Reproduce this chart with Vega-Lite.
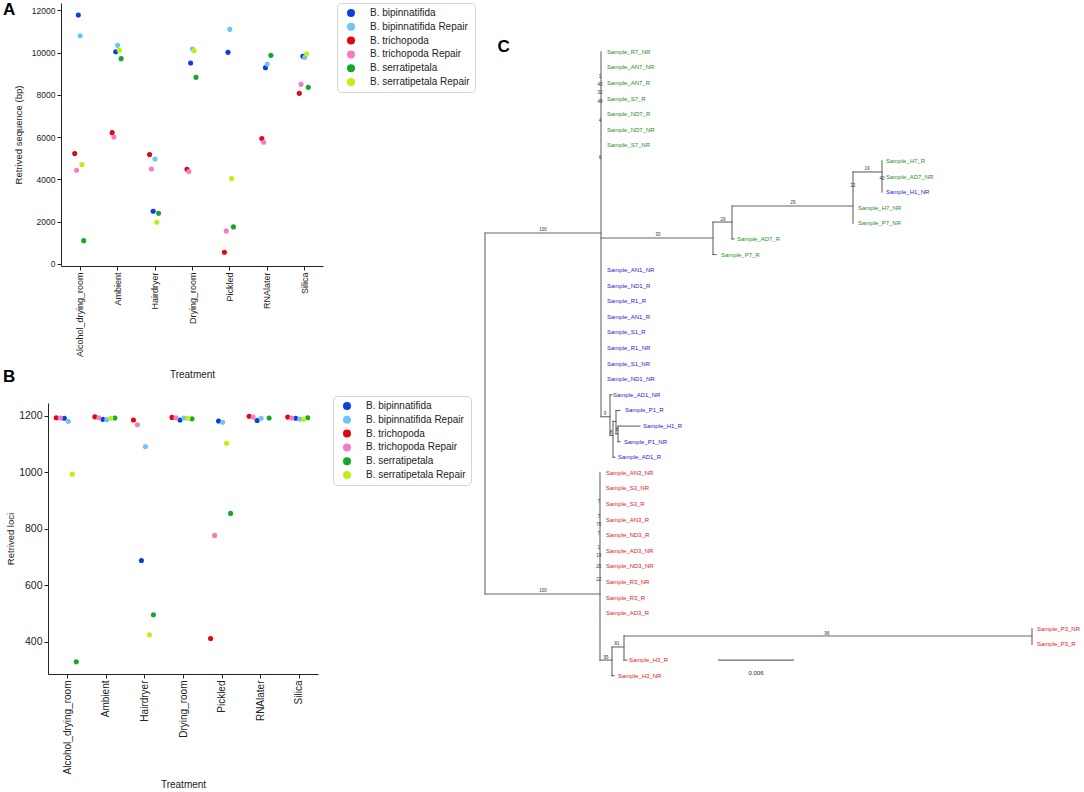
{
  "$schema": "https://vega.github.io/schema/vega-lite/v6.json",
  "width": 1084,
  "height": 792,
  "autosize": {"type": "none"},
  "padding": 0,
  "background": "white",
  "title": {"text": ["A", "B"], "lineHeight": 367, "anchor": "start", "frame": "group", "dx": 3, "dy": 399, "offset": 0, "baseline": "alphabetic", "align": "left", "fontSize": 17, "fontWeight": "bold", "color": "#000"},
  "datasets": {
    "seq": [
      {"t": "Alcohol_drying_room", "s": "B. bipinnatifida", "v": 11780},
      {"t": "Alcohol_drying_room", "s": "B. bipinnatifida Repair", "v": 10800},
      {"t": "Alcohol_drying_room", "s": "B. trichopoda", "v": 5220},
      {"t": "Alcohol_drying_room", "s": "B. trichopoda Repair", "v": 4430},
      {"t": "Alcohol_drying_room", "s": "B. serratipetala", "v": 1100},
      {"t": "Alcohol_drying_room", "s": "B. serratipetala Repair", "v": 4700},
      {"t": "Ambient", "s": "B. bipinnatifida", "v": 10045},
      {"t": "Ambient", "s": "B. bipinnatifida Repair", "v": 10345},
      {"t": "Ambient", "s": "B. trichopoda", "v": 6213},
      {"t": "Ambient", "s": "B. trichopoda Repair", "v": 6008},
      {"t": "Ambient", "s": "B. serratipetala", "v": 9715},
      {"t": "Ambient", "s": "B. serratipetala Repair", "v": 10110},
      {"t": "Hairdryer", "s": "B. bipinnatifida", "v": 2492},
      {"t": "Hairdryer", "s": "B. bipinnatifida Repair", "v": 4968},
      {"t": "Hairdryer", "s": "B. trichopoda", "v": 5173},
      {"t": "Hairdryer", "s": "B. trichopoda Repair", "v": 4494},
      {"t": "Hairdryer", "s": "B. serratipetala", "v": 2397},
      {"t": "Hairdryer", "s": "B. serratipetala Repair", "v": 1971},
      {"t": "Drying_room", "s": "B. bipinnatifida", "v": 9509},
      {"t": "Drying_room", "s": "B. bipinnatifida Repair", "v": 10172},
      {"t": "Drying_room", "s": "B. trichopoda", "v": 4479},
      {"t": "Drying_room", "s": "B. trichopoda Repair", "v": 4368},
      {"t": "Drying_room", "s": "B. serratipetala", "v": 8831},
      {"t": "Drying_room", "s": "B. serratipetala Repair", "v": 10093},
      {"t": "Pickled", "s": "B. bipinnatifida", "v": 10014},
      {"t": "Pickled", "s": "B. bipinnatifida Repair", "v": 11102},
      {"t": "Pickled", "s": "B. trichopoda", "v": 552},
      {"t": "Pickled", "s": "B. trichopoda Repair", "v": 1561},
      {"t": "Pickled", "s": "B. serratipetala", "v": 1750},
      {"t": "Pickled", "s": "B. serratipetala Repair", "v": 4037},
      {"t": "RNAlater", "s": "B. bipinnatifida", "v": 9289},
      {"t": "RNAlater", "s": "B. bipinnatifida Repair", "v": 9462},
      {"t": "RNAlater", "s": "B. trichopoda", "v": 5930},
      {"t": "RNAlater", "s": "B. trichopoda Repair", "v": 5756},
      {"t": "RNAlater", "s": "B. serratipetala", "v": 9872},
      {"t": "Silica", "s": "B. bipinnatifida", "v": 9825},
      {"t": "Silica", "s": "B. bipinnatifida Repair", "v": 9777},
      {"t": "Silica", "s": "B. trichopoda", "v": 8074},
      {"t": "Silica", "s": "B. trichopoda Repair", "v": 8500},
      {"t": "Silica", "s": "B. serratipetala", "v": 8358},
      {"t": "Silica", "s": "B. serratipetala Repair", "v": 9951}
    ],
    "loci": [
      {"t": "Alcohol_drying_room", "s": "B. bipinnatifida", "v": 1191},
      {"t": "Alcohol_drying_room", "s": "B. bipinnatifida Repair", "v": 1180},
      {"t": "Alcohol_drying_room", "s": "B. trichopoda", "v": 1193},
      {"t": "Alcohol_drying_room", "s": "B. trichopoda Repair", "v": 1192},
      {"t": "Alcohol_drying_room", "s": "B. serratipetala", "v": 328},
      {"t": "Alcohol_drying_room", "s": "B. serratipetala Repair", "v": 993},
      {"t": "Ambient", "s": "B. bipinnatifida", "v": 1187},
      {"t": "Ambient", "s": "B. bipinnatifida Repair", "v": 1186},
      {"t": "Ambient", "s": "B. trichopoda", "v": 1196},
      {"t": "Ambient", "s": "B. trichopoda Repair", "v": 1193},
      {"t": "Ambient", "s": "B. serratipetala", "v": 1192},
      {"t": "Ambient", "s": "B. serratipetala Repair", "v": 1191},
      {"t": "Hairdryer", "s": "B. bipinnatifida", "v": 687},
      {"t": "Hairdryer", "s": "B. bipinnatifida Repair", "v": 1091},
      {"t": "Hairdryer", "s": "B. trichopoda", "v": 1185},
      {"t": "Hairdryer", "s": "B. trichopoda Repair", "v": 1168},
      {"t": "Hairdryer", "s": "B. serratipetala", "v": 495},
      {"t": "Hairdryer", "s": "B. serratipetala Repair", "v": 424},
      {"t": "Drying_room", "s": "B. bipinnatifida", "v": 1185},
      {"t": "Drying_room", "s": "B. bipinnatifida Repair", "v": 1192},
      {"t": "Drying_room", "s": "B. trichopoda", "v": 1194},
      {"t": "Drying_room", "s": "B. trichopoda Repair", "v": 1193},
      {"t": "Drying_room", "s": "B. serratipetala", "v": 1189},
      {"t": "Drying_room", "s": "B. serratipetala Repair", "v": 1191},
      {"t": "Pickled", "s": "B. bipinnatifida", "v": 1181},
      {"t": "Pickled", "s": "B. bipinnatifida Repair", "v": 1177},
      {"t": "Pickled", "s": "B. trichopoda", "v": 411},
      {"t": "Pickled", "s": "B. trichopoda Repair", "v": 776},
      {"t": "Pickled", "s": "B. serratipetala", "v": 854},
      {"t": "Pickled", "s": "B. serratipetala Repair", "v": 1102},
      {"t": "RNAlater", "s": "B. bipinnatifida", "v": 1183},
      {"t": "RNAlater", "s": "B. bipinnatifida Repair", "v": 1191},
      {"t": "RNAlater", "s": "B. trichopoda", "v": 1198},
      {"t": "RNAlater", "s": "B. trichopoda Repair", "v": 1195},
      {"t": "RNAlater", "s": "B. serratipetala", "v": 1192},
      {"t": "Silica", "s": "B. bipinnatifida", "v": 1191},
      {"t": "Silica", "s": "B. bipinnatifida Repair", "v": 1188},
      {"t": "Silica", "s": "B. trichopoda", "v": 1195},
      {"t": "Silica", "s": "B. trichopoda Repair", "v": 1192},
      {"t": "Silica", "s": "B. serratipetala", "v": 1193},
      {"t": "Silica", "s": "B. serratipetala Repair", "v": 1187}
    ],
    "edges": [
      {"x": -0.002684, "x2": -0.002053, "y": 23.17, "y2": 23.17},
      {"x": 0, "x2": 0.009158, "y": 11.62, "y2": 11.62},
      {"x": 0, "x2": 0.009079, "y": 34.76, "y2": 34.76},
      {"x": 0, "x2": 0, "y": 11.62, "y2": 34.76},
      {"x": 0.009158, "x2": 0.009158, "y": 0, "y2": 23.4},
      {"x": 0.009158, "x2": 0.018, "y": 11.94, "y2": 11.94},
      {"x": 0.018, "x2": 0.018, "y": 10.92, "y2": 13},
      {"x": 0.018, "x2": 0.018237, "y": 13, "y2": 13},
      {"x": 0.018, "x2": 0.0195, "y": 10.92, "y2": 10.92},
      {"x": 0.0195, "x2": 0.0195, "y": 9.89, "y2": 12},
      {"x": 0.0195, "x2": 0.019658, "y": 12, "y2": 12},
      {"x": 0.0195, "x2": 0.029053, "y": 9.89, "y2": 9.89},
      {"x": 0.029053, "x2": 0.029053, "y": 7.71, "y2": 11},
      {"x": 0.029053, "x2": 0.031342, "y": 7.71, "y2": 7.71},
      {"x": 0.031342, "x2": 0.031342, "y": 7, "y2": 9},
      {"x": 0.009158, "x2": 0.009868, "y": 23.4, "y2": 23.4},
      {"x": 0.009868, "x2": 0.009868, "y": 22, "y2": 24.6},
      {"x": 0.009868, "x2": 0.010026, "y": 22, "y2": 22},
      {"x": 0.009868, "x2": 0.010105, "y": 24.6, "y2": 24.6},
      {"x": 0.010105, "x2": 0.010105, "y": 23.7, "y2": 26},
      {"x": 0.010105, "x2": 0.010263, "y": 26, "y2": 26},
      {"x": 0.010105, "x2": 0.010342, "y": 23.7, "y2": 23.7},
      {"x": 0.010342, "x2": 0.010342, "y": 23, "y2": 24.5},
      {"x": 0.010342, "x2": 0.010658, "y": 23, "y2": 23},
      {"x": 0.010342, "x2": 0.0105, "y": 24.5, "y2": 24.5},
      {"x": 0.0105, "x2": 0.0105, "y": 24, "y2": 25},
      {"x": 0.0105, "x2": 0.012237, "y": 24, "y2": 24},
      {"x": 0.0105, "x2": 0.010658, "y": 25, "y2": 25},
      {"x": 0.009079, "x2": 0.009079, "y": 27, "y2": 39},
      {"x": 0.009079, "x2": 0.010026, "y": 39, "y2": 39},
      {"x": 0.010026, "x2": 0.010026, "y": 38.16, "y2": 40},
      {"x": 0.010026, "x2": 0.010184, "y": 40, "y2": 40},
      {"x": 0.010026, "x2": 0.010974, "y": 38.16, "y2": 38.16},
      {"x": 0.010974, "x2": 0.010974, "y": 37.46, "y2": 39},
      {"x": 0.010974, "x2": 0.011211, "y": 39, "y2": 39},
      {"x": 0.010974, "x2": 0.043184, "y": 37.46, "y2": 37.46},
      {"x": 0.043184, "x2": 0.043184, "y": 37, "y2": 38}
    ],
    "tips": [
      {"name": "Sample_R7_NR", "g": "7", "x": 0.009632, "y": 0},
      {"name": "Sample_AN7_NR", "g": "7", "x": 0.009632, "y": 1},
      {"name": "Sample_AN7_R", "g": "7", "x": 0.009632, "y": 2},
      {"name": "Sample_S7_R", "g": "7", "x": 0.009632, "y": 3},
      {"name": "Sample_ND7_R", "g": "7", "x": 0.009632, "y": 4},
      {"name": "Sample_ND7_NR", "g": "7", "x": 0.009632, "y": 5},
      {"name": "Sample_S7_NR", "g": "7", "x": 0.009632, "y": 6},
      {"name": "Sample_H7_R", "g": "7", "x": 0.031658, "y": 7},
      {"name": "Sample_AD7_NR", "g": "7", "x": 0.031658, "y": 8},
      {"name": "Sample_H1_NR", "g": "1", "x": 0.031658, "y": 9},
      {"name": "Sample_H7_NR", "g": "7", "x": 0.029447, "y": 10},
      {"name": "Sample_P7_NR", "g": "7", "x": 0.029447, "y": 11},
      {"name": "Sample_AD7_R", "g": "7", "x": 0.019895, "y": 12},
      {"name": "Sample_P7_R", "g": "7", "x": 0.018632, "y": 13},
      {"name": "Sample_AN1_NR", "g": "1", "x": 0.009632, "y": 14},
      {"name": "Sample_ND1_R", "g": "1", "x": 0.009632, "y": 15},
      {"name": "Sample_R1_R", "g": "1", "x": 0.009632, "y": 16},
      {"name": "Sample_AN1_R", "g": "1", "x": 0.009632, "y": 17},
      {"name": "Sample_S1_R", "g": "1", "x": 0.009632, "y": 18},
      {"name": "Sample_R1_NR", "g": "1", "x": 0.009632, "y": 19},
      {"name": "Sample_S1_NR", "g": "1", "x": 0.009632, "y": 20},
      {"name": "Sample_ND1_NR", "g": "1", "x": 0.009632, "y": 21},
      {"name": "Sample_AD1_NR", "g": "1", "x": 0.010105, "y": 22},
      {"name": "Sample_P1_R", "g": "1", "x": 0.011053, "y": 23},
      {"name": "Sample_H1_R", "g": "1", "x": 0.012474, "y": 24},
      {"name": "Sample_P1_NR", "g": "1", "x": 0.010974, "y": 25},
      {"name": "Sample_AD1_R", "g": "1", "x": 0.0105, "y": 26},
      {"name": "Sample_AN3_NR", "g": "3", "x": 0.009553, "y": 27},
      {"name": "Sample_S3_NR", "g": "3", "x": 0.009553, "y": 28},
      {"name": "Sample_S3_R", "g": "3", "x": 0.009553, "y": 29},
      {"name": "Sample_AN3_R", "g": "3", "x": 0.009553, "y": 30},
      {"name": "Sample_ND3_R", "g": "3", "x": 0.009553, "y": 31},
      {"name": "Sample_AD3_NR", "g": "3", "x": 0.009553, "y": 32},
      {"name": "Sample_ND3_NR", "g": "3", "x": 0.009553, "y": 33},
      {"name": "Sample_R3_NR", "g": "3", "x": 0.009553, "y": 34},
      {"name": "Sample_R3_R", "g": "3", "x": 0.009553, "y": 35},
      {"name": "Sample_AD3_R", "g": "3", "x": 0.009553, "y": 36},
      {"name": "Sample_P3_NR", "g": "3", "x": 0.043579, "y": 37},
      {"name": "Sample_P3_R", "g": "3", "x": 0.043579, "y": 38},
      {"name": "Sample_H3_R", "g": "3", "x": 0.011368, "y": 39},
      {"name": "Sample_H3_NR", "g": "3", "x": 0.0105, "y": 40}
    ],
    "boot": [
      {"b": "100", "x": 0.004579, "y": 11.62},
      {"b": "100", "x": 0.004579, "y": 34.76},
      {"b": "30", "x": 0.013658, "y": 11.94},
      {"b": "29", "x": 0.018789, "y": 10.92},
      {"b": "29", "x": 0.024316, "y": 9.89},
      {"b": "19", "x": 0.030158, "y": 7.71},
      {"b": "32", "x": 0.029053, "y": 8.8},
      {"b": "40", "x": 0.031342, "y": 8.3},
      {"b": "9", "x": 0.009474, "y": 23.4},
      {"b": "8", "x": 0.009947, "y": 24.6},
      {"b": "8", "x": 0.010421, "y": 24.4},
      {"b": "95", "x": 0.009553, "y": 39},
      {"b": "81", "x": 0.010421, "y": 38.16},
      {"b": "96", "x": 0.027, "y": 37.46},
      {"b": "7", "x": 0.00898, "y": 29.0},
      {"b": "7", "x": 0.00898, "y": 30.0},
      {"b": "76", "x": 0.00898, "y": 30.5},
      {"b": "7", "x": 0.00898, "y": 31.1},
      {"b": "1", "x": 0.00898, "y": 32.0},
      {"b": "19", "x": 0.00898, "y": 32.5},
      {"b": "20", "x": 0.00898, "y": 33.2},
      {"b": "22", "x": 0.00898, "y": 34.0},
      {"b": "1", "x": 0.009079, "y": 1.8},
      {"b": "40", "x": 0.009079, "y": 2.3},
      {"b": "32", "x": 0.009079, "y": 2.8},
      {"b": "48", "x": 0.009079, "y": 3.4},
      {"b": "4", "x": 0.009079, "y": 4.6},
      {"b": "6", "x": 0.009079, "y": 7.0}
    ],
    "bar": [
      {"x": 0.018395, "x2": 0.024395, "y": 39.0, "lx": 0.021395, "ly": 39.8, "lbl": "0.006"}
    ]
  },
  "layer": [
    {
      "data": {"name": "seq"},
      "mark": {"type": "circle", "size": 26, "opacity": 1},
      "encoding": {
        "x": {
          "field": "t", "type": "nominal",
          "sort": ["Alcohol_drying_room", "Ambient", "Hairdryer", "Drying_room", "Pickled", "RNAlater", "Silica"],
          "scale": {"type": "point", "padding": 0.5, "range": [61, 323]},
          "axis": {"orient": "bottom", "offset": -526, "title": "Treatment", "labelAngle": -90, "labelFontSize": 9, "titleFontSize": 10, "titlePadding": 13}
        },
        "xOffset": {
          "field": "s", "type": "nominal",
          "scale": {"type": "point", "padding": 0, "range": [-5, 4], "domain": ["B. trichopoda", "B. trichopoda Repair", "B. bipinnatifida", "B. bipinnatifida Repair", "B. serratipetala Repair", "B. serratipetala"]}
        },
        "y": {
          "field": "v", "type": "quantitative",
          "scale": {"domain": [-100, 12350], "range": [266, 3], "nice": false, "zero": false},
          "axis": {"orient": "left", "offset": -61, "title": "Retrived sequence (bp)", "values": [0, 2000, 4000, 6000, 8000, 10000, 12000], "format": "d", "labelFontSize": 8.5, "titleFontSize": 9.5, "titlePadding": 8}
        },
        "color": {
          "field": "s", "type": "nominal",
          "scale": {"domain": ["B. bipinnatifida", "B. bipinnatifida Repair", "B. trichopoda", "B. trichopoda Repair", "B. serratipetala", "B. serratipetala Repair"], "range": ["#0a3fdc", "#6ec5f5", "#e3060f", "#f57cc2", "#14a82a", "#c3ee12"]},
          "legend": {"legendX": 337, "legendY": 3}
        }
      }
    },
    {
      "data": {"name": "loci"},
      "mark": {"type": "circle", "size": 26, "opacity": 1},
      "encoding": {
        "x": {
          "field": "t", "type": "nominal",
          "sort": ["Alcohol_drying_room", "Ambient", "Hairdryer", "Drying_room", "Pickled", "RNAlater", "Silica"],
          "scale": {"type": "point", "padding": 0.5, "range": [48, 318]},
          "axis": {"orient": "bottom", "offset": -118, "title": "Treatment", "labelAngle": -90, "labelFontSize": 10, "titleFontSize": 10, "titlePadding": 6}
        },
        "xOffset": {
          "field": "s", "type": "nominal",
          "scale": {"type": "point", "padding": 0, "range": [-11, 9], "domain": ["B. trichopoda", "B. trichopoda Repair", "B. bipinnatifida", "B. bipinnatifida Repair", "B. serratipetala Repair", "B. serratipetala"]}
        },
        "y": {
          "field": "v", "type": "quantitative",
          "scale": {"domain": [285, 1245], "range": [674, 403], "nice": false, "zero": false},
          "axis": {"orient": "left", "offset": -48, "title": "Retrived loci", "values": [400, 600, 800, 1000, 1200], "format": "d", "labelFontSize": 10.5, "titleFontSize": 9.5, "titlePadding": 3}
        },
        "color": {
          "field": "s", "type": "nominal",
          "scale": {"domain": ["B. bipinnatifida", "B. bipinnatifida Repair", "B. trichopoda", "B. trichopoda Repair", "B. serratipetala", "B. serratipetala Repair"], "range": ["#0a3fdc", "#6ec5f5", "#e3060f", "#f57cc2", "#14a82a", "#c3ee12"]},
          "legend": {"legendX": 333, "legendY": 396}
        }
      }
    },
    {
      "layer": [
        {
          "data": {"name": "edges"},
          "mark": {"type": "rule", "color": "#666666", "strokeWidth": 1.1, "strokeCap": "square"},
          "encoding": {
            "x": {"field": "x", "type": "quantitative", "scale": {"domain": [-0.002921, 0.046974], "range": [448, 1080], "nice": false, "zero": false}, "axis": {"orient": "top", "title": "C", "domain": false, "ticks": false, "labels": false, "grid": false, "titleX": 497, "titleY": 51, "titleAlign": "left", "titleBaseline": "alphabetic", "titleAngle": 0, "titleFontSize": 17, "titleFontWeight": "bold", "titleColor": "#000"}},
            "x2": {"field": "x2"},
            "y": {"field": "y", "type": "quantitative", "scale": {"domain": [-3.122, 40.917], "range": [3, 690], "nice": false, "zero": false}, "axis": null},
            "y2": {"field": "y2"}
          }
        },
        {
          "data": {"name": "bar"},
          "mark": {"type": "rule", "color": "#444444", "strokeWidth": 1},
          "encoding": {
            "x": {"field": "x", "type": "quantitative", "axis": {"orient": "top", "title": "C", "domain": false, "ticks": false, "labels": false, "grid": false, "titleX": 497, "titleY": 51, "titleAlign": "left", "titleBaseline": "alphabetic", "titleAngle": 0, "titleFontSize": 17, "titleFontWeight": "bold", "titleColor": "#000"}},
            "x2": {"field": "x2"},
            "y": {"field": "y", "type": "quantitative", "axis": null}
          }
        },
        {
          "data": {"name": "bar"},
          "mark": {"type": "text", "fontSize": 6, "baseline": "middle", "align": "center", "color": "#222"},
          "encoding": {
            "x": {"field": "lx", "type": "quantitative", "axis": {"orient": "top", "title": "C", "domain": false, "ticks": false, "labels": false, "grid": false, "titleX": 497, "titleY": 51, "titleAlign": "left", "titleBaseline": "alphabetic", "titleAngle": 0, "titleFontSize": 17, "titleFontWeight": "bold", "titleColor": "#000"}},
            "y": {"field": "ly", "type": "quantitative", "axis": null},
            "text": {"field": "lbl"}
          }
        },
        {
          "data": {"name": "boot"},
          "mark": {"type": "text", "fontSize": 4.5, "baseline": "bottom", "align": "center", "dy": -0.5, "color": "#333"},
          "encoding": {
            "x": {"field": "x", "type": "quantitative", "axis": {"orient": "top", "title": "C", "domain": false, "ticks": false, "labels": false, "grid": false, "titleX": 497, "titleY": 51, "titleAlign": "left", "titleBaseline": "alphabetic", "titleAngle": 0, "titleFontSize": 17, "titleFontWeight": "bold", "titleColor": "#000"}},
            "y": {"field": "y", "type": "quantitative", "axis": null},
            "text": {"field": "b"}
          }
        },
        {
          "data": {"name": "tips"},
          "mark": {"type": "text", "fontSize": 6, "baseline": "middle", "align": "left"},
          "encoding": {
            "x": {"field": "x", "type": "quantitative", "axis": {"orient": "top", "title": "C", "domain": false, "ticks": false, "labels": false, "grid": false, "titleX": 497, "titleY": 51, "titleAlign": "left", "titleBaseline": "alphabetic", "titleAngle": 0, "titleFontSize": 17, "titleFontWeight": "bold", "titleColor": "#000"}},
            "y": {"field": "y", "type": "quantitative", "axis": null},
            "text": {"field": "name"},
            "color": {"field": "g", "type": "nominal", "scale": {"domain": ["7", "1", "3"], "range": ["#1f8c1f", "#2222d4", "#e3161c"]}, "legend": null}
          }
        }
      ]
    }
  ],
  "resolve": {
    "scale": {"x": "independent", "y": "independent", "xOffset": "independent", "color": "independent"},
    "axis": {"x": "independent", "y": "independent"},
    "legend": {"color": "independent"}
  },
  "config": {
    "view": {"stroke": null},
    "font": "Liberation Sans",
    "axis": {"domainColor": "#222", "tickColor": "#222", "labelColor": "#222", "titleColor": "#222", "grid": false, "labelFont": "Liberation Sans", "titleFont": "Liberation Sans", "titleFontWeight": "normal", "tickSize": 4, "labelPadding": 2, "domainWidth": 1, "tickWidth": 1},
    "legend": {"orient": "none", "title": null, "symbolType": "circle", "symbolSize": 64, "symbolStrokeWidth": 0, "labelFontSize": 10, "labelFont": "Liberation Sans", "labelColor": "#222", "strokeColor": "#d6d6d6", "fillColor": "white", "padding": 5, "cornerRadius": 4, "rowPadding": 3.8, "labelOffset": 14, "symbolOffset": 4, "labelLimit": 200}
  }
}
